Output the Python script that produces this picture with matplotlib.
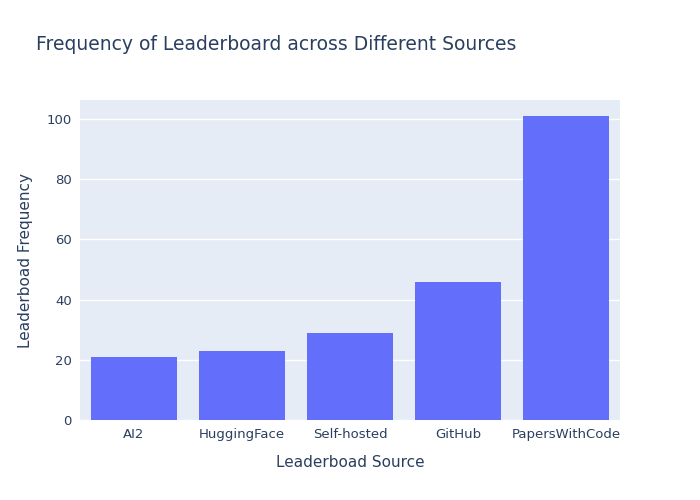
import matplotlib.pyplot as plt

sources = ["AI2", "HuggingFace", "Self-hosted", "GitHub", "PapersWithCode"]
counts = [21, 23, 29, 46, 101]

fig = plt.figure(figsize=(7, 5), dpi=100)
ax = fig.add_axes([80 / 700, 80 / 500, 540 / 700, 320 / 500])
ax.set_facecolor("#E5ECF6")
ax.bar(range(len(sources)), counts, width=0.8, color="#636EFA", zorder=3)
ax.set_xlim(-0.5, len(sources) - 0.5)
ax.set_ylim(0, 106.3)
ax.set_yticks([0, 20, 40, 60, 80, 100])
ax.set_xticks(range(len(sources)))
ax.set_xticklabels(sources)
ax.grid(axis="y", color="white", linewidth=1, zorder=0)
for s in ax.spines.values():
    s.set_visible(False)
ax.tick_params(length=0, labelsize=9.5, colors="#2a3f5f", pad=6)
ax.set_xlabel("Leaderboad Source", fontsize=11, color="#2a3f5f", labelpad=10)
ax.set_ylabel("Leaderboad Frequency", fontsize=11, color="#2a3f5f", labelpad=10)
fig.text(36 / 700, 1 - 45 / 500, "Frequency of Leaderboard across Different Sources",
         fontsize=13.5, color="#2a3f5f", va="center")
fig.savefig("out.png")
